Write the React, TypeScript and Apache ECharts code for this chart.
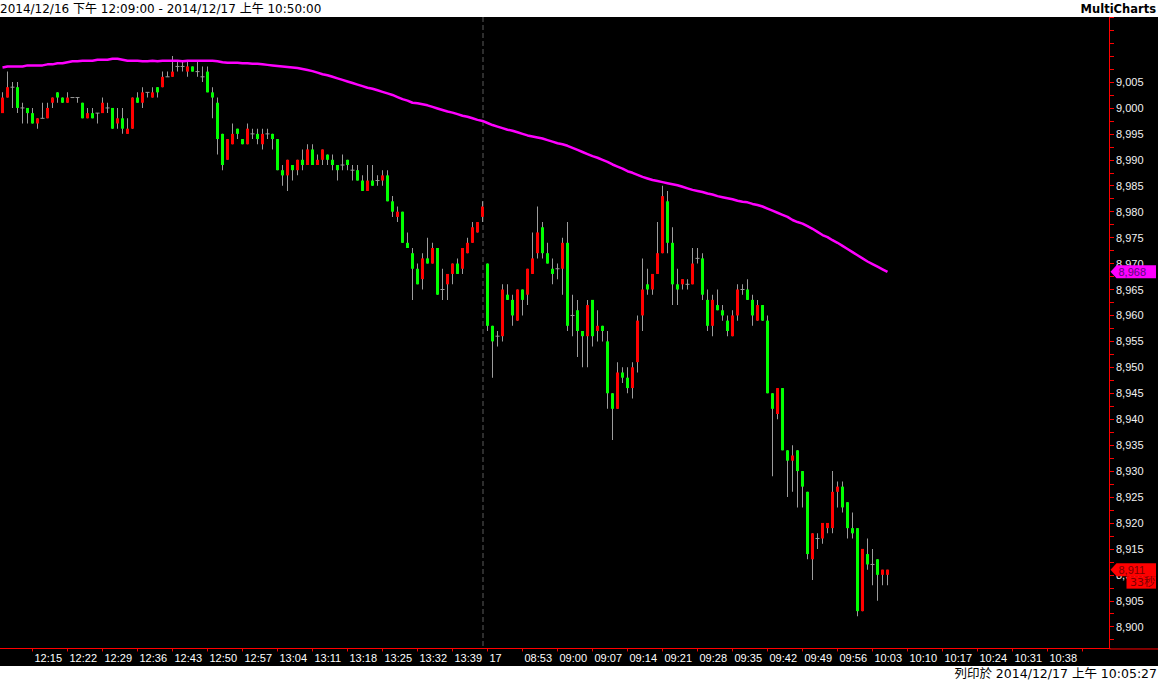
import { useEffect, useRef } from "react";
import * as echarts from "echarts";

// ---------- data ----------
const sessions: [string, string][] = [
  ["12:09", "13:45"],
  ["08:46", "10:50"],
];
const toMin = (s: string) => Number(s.slice(0, 2)) * 60 + Number(s.slice(3));
const fmtMin = (m: number) =>
  String(Math.floor(m / 60)).padStart(2, "0") + ":" + String(m % 60).padStart(2, "0");
const times: string[] = sessions.flatMap(([a, b]) => {
  const r: string[] = [];
  for (let m = toMin(a); m <= toMin(b); m++) r.push(fmtMin(m));
  return r;
});
const dateChangeIndex = toMin(sessions[0][1]) - toMin(sessions[0][0]) + 1; // first bar of 12/17
const dateChangeLabel = "17";
const sessionEndTime = "13:45";
const labelStart = 6;
const labelStep = 7;
const lastLabelIndex = 209;

// [open, high, low, close]
const ohlc: [number, number, number, number][] = [
  [8999, 9003, 8999, 9002], [9002, 9007, 9002, 9004], [9004, 9005, 9000, 9004], [9004, 9005, 8999, 9000],
  [9000, 9001, 8997, 9000], [9000, 9000, 8997, 8999], [8999, 9000, 8997, 8997], [8997, 8998, 8996, 8998],
  [8998, 9001, 8998, 8998], [8998, 9001, 8998, 9000], [9001, 9002, 9000, 9002], [9003, 9003, 9001, 9002],
  [9002, 9002, 9001, 9001], [9001, 9003, 9001, 9002], [9002, 9002, 9002, 9002], [9002, 9002, 9001, 9002],
  [9001, 9001, 8998, 8998], [8998, 9000, 8998, 8999], [8999, 9000, 8998, 8998], [8999, 8999, 8997, 8999],
  [8999, 9002, 8999, 9001], [9000, 9001, 8999, 9000], [9000, 9000, 8996, 8996], [8997, 9000, 8996, 8998],
  [8998, 9000, 8995, 8996], [8995, 8998, 8995, 8996], [8996, 9002, 8996, 9002], [9002, 9003, 9001, 9001],
  [9001, 9004, 9000, 9003], [9003, 9003, 9002, 9003], [9002, 9004, 9002, 9003], [9004, 9004, 9002, 9003],
  [9004, 9007, 9004, 9006], [9006, 9007, 9006, 9006], [9006, 9010, 9006, 9007], [9008, 9009, 9007, 9008],
  [9008, 9009, 9007, 9008], [9007, 9009, 9006, 9008], [9008, 9008, 9007, 9007], [9007, 9009, 9006, 9007],
  [9006, 9008, 9005, 9006], [9007, 9008, 9003, 9003], [9003, 9004, 8998, 9002], [9001, 9002, 8991, 8994],
  [8995, 8995, 8988, 8989], [8990, 8994, 8990, 8994], [8993, 8997, 8993, 8995], [8996, 8996, 8994, 8995],
  [8994, 8994, 8993, 8993], [8993, 8997, 8993, 8996], [8995, 8996, 8994, 8995], [8995, 8996, 8993, 8994],
  [8993, 8996, 8992, 8995], [8995, 8996, 8994, 8995], [8995, 8995, 8992, 8994], [8994, 8994, 8988, 8988],
  [8988, 8989, 8985, 8987], [8987, 8990, 8984, 8990], [8989, 8989, 8986, 8988], [8988, 8990, 8987, 8990],
  [8990, 8992, 8988, 8989], [8989, 8993, 8989, 8992], [8992, 8993, 8989, 8989], [8989, 8991, 8989, 8990],
  [8990, 8992, 8989, 8992], [8991, 8991, 8989, 8990], [8990, 8991, 8988, 8989], [8989, 8989, 8986, 8988],
  [8989, 8991, 8988, 8989], [8990, 8990, 8988, 8989], [8988, 8989, 8986, 8988], [8988, 8989, 8986, 8986],
  [8986, 8987, 8984, 8984], [8984, 8989, 8984, 8986], [8986, 8989, 8985, 8985], [8986, 8987, 8985, 8986],
  [8986, 8988, 8985, 8987], [8987, 8988, 8982, 8982], [8982, 8983, 8979, 8980], [8979, 8981, 8978, 8980],
  [8980, 8980, 8974, 8974], [8974, 8976, 8973, 8973], [8972, 8973, 8963, 8969], [8969, 8970, 8966, 8966],
  [8967, 8972, 8965, 8971], [8971, 8975, 8970, 8970], [8970, 8974, 8970, 8973], [8973, 8973, 8964, 8964],
  [8965, 8969, 8963, 8965], [8966, 8968, 8963, 8968], [8968, 8970, 8966, 8970], [8970, 8971, 8968, 8968],
  [8969, 8973, 8968, 8973], [8972, 8975, 8972, 8974], [8974, 8978, 8974, 8977], [8976, 8978, 8976, 8978],
  [8979, 8982, 8978, 8981],
  [8970, 8970, 8957, 8958], [8958, 8958, 8948, 8955], [8956, 8957, 8954, 8956], [8956, 8966, 8955, 8965],
  [8964, 8966, 8963, 8963], [8963, 8964, 8958, 8960], [8959, 8965, 8959, 8965], [8965, 8965, 8960, 8963],
  [8964, 8969, 8962, 8969], [8968, 8976, 8968, 8971], [8972, 8981, 8971, 8976], [8977, 8978, 8971, 8972],
  [8972, 8974, 8970, 8970], [8969, 8971, 8966, 8968], [8969, 8970, 8967, 8969], [8969, 8975, 8964, 8974],
  [8974, 8978, 8957, 8958], [8960, 8964, 8956, 8960], [8961, 8963, 8952, 8957], [8957, 8957, 8950, 8956],
  [8956, 8963, 8950, 8962], [8963, 8963, 8954, 8956], [8957, 8961, 8955, 8958], [8958, 8958, 8955, 8957],
  [8955, 8957, 8942, 8945], [8945, 8945, 8936, 8942], [8942, 8951, 8942, 8949], [8949, 8950, 8947, 8948],
  [8948, 8950, 8945, 8946], [8946, 8951, 8944, 8950], [8951, 8960, 8949, 8959], [8960, 8971, 8957, 8965],
  [8966, 8969, 8964, 8965], [8965, 8968, 8964, 8968], [8968, 8978, 8968, 8972], [8972, 8985, 8972, 8983],
  [8982, 8984, 8972, 8974], [8974, 8977, 8962, 8966], [8966, 8969, 8962, 8965], [8966, 8967, 8965, 8967],
  [8966, 8967, 8965, 8966], [8966, 8973, 8966, 8970], [8971, 8973, 8970, 8971], [8971, 8972, 8963, 8964],
  [8963, 8965, 8957, 8958], [8958, 8964, 8956, 8963], [8962, 8965, 8961, 8961], [8961, 8962, 8959, 8960],
  [8959, 8960, 8956, 8957], [8956, 8961, 8956, 8960], [8960, 8966, 8959, 8965], [8965, 8966, 8964, 8965],
  [8965, 8967, 8963, 8963], [8963, 8964, 8958, 8960], [8959, 8963, 8959, 8962], [8962, 8962, 8959, 8959],
  [8959, 8960, 8945, 8945], [8945, 8945, 8929, 8942], [8941, 8946, 8940, 8946], [8946, 8946, 8934, 8934],
  [8934, 8934, 8925, 8932], [8932, 8935, 8926, 8933], [8934, 8934, 8923, 8930], [8930, 8930, 8923, 8927],
  [8926, 8926, 8913, 8914], [8913, 8918, 8909, 8918], [8917, 8918, 8915, 8917], [8917, 8920, 8916, 8920],
  [8919, 8920, 8918, 8920], [8919, 8930, 8918, 8926], [8926, 8928, 8923, 8927], [8927, 8928, 8922, 8923],
  [8924, 8924, 8917, 8919], [8919, 8922, 8917, 8918], [8919, 8919, 8902, 8903], [8903, 8915, 8903, 8915],
  [8914, 8917, 8911, 8912], [8912, 8915, 8908, 8912], [8913, 8913, 8905, 8910], [8910, 8911, 8908, 8911],
  [8910, 8911, 8908, 8911],
];

const movingAvg: number[] = [
  9007.8, 9008.0, 9008.0, 9008.0, 9008.0, 9008.2, 9008.2, 9008.2, 9008.2, 9008.4,
  9008.4, 9008.6, 9008.6, 9008.8, 9009.0, 9009.0, 9009.1, 9009.1, 9009.1, 9009.3,
  9009.3, 9009.3, 9009.5, 9009.5, 9009.3, 9009.1, 9009.1, 9009.1, 9009.0, 9009.0,
  9009.1, 9009.0, 9009.1, 9009.1, 9009.1, 9009.1, 9009.0, 9009.1, 9009.1, 9009.1,
  9009.1, 9009.1, 9009.1, 9009.0, 9008.8, 9008.7, 9008.7, 9008.7, 9008.6, 9008.6,
  9008.5, 9008.5, 9008.4, 9008.3, 9008.2, 9008.1, 9008.0, 9007.9, 9007.8, 9007.7,
  9007.5, 9007.3, 9007.1, 9006.8, 9006.5, 9006.3, 9006.0, 9005.7, 9005.4, 9005.1,
  9004.8, 9004.5, 9004.2, 9003.9, 9003.7, 9003.4, 9003.1, 9002.8, 9002.5, 9002.1,
  9001.7, 9001.4, 9001.0, 9000.9, 9000.7, 9000.5, 9000.2, 8999.9, 8999.6, 8999.3,
  8999.1, 8998.8, 8998.5, 8998.3, 8998.0, 8997.7, 8997.5, 8997.1, 8996.7, 8996.4,
  8996.1, 8995.8, 8995.6, 8995.3, 8995.0, 8994.7, 8994.5, 8994.3, 8994.1, 8993.8,
  8993.5, 8993.2, 8993.0, 8992.7, 8992.3, 8991.9, 8991.5, 8991.1, 8990.7, 8990.4,
  8990.0, 8989.6, 8989.1, 8988.7, 8988.3, 8987.8, 8987.5, 8987.1, 8986.7, 8986.4,
  8986.1, 8985.9, 8985.7, 8985.5, 8985.3, 8985.1, 8984.8, 8984.5, 8984.2, 8984.0,
  8983.8, 8983.5, 8983.3, 8983.0, 8982.8, 8982.6, 8982.4, 8982.1, 8981.9, 8981.8,
  8981.5, 8981.3, 8981.0, 8980.6, 8980.2, 8979.8, 8979.4, 8979.0, 8978.4, 8978.0,
  8977.7, 8977.2, 8976.7, 8976.1, 8975.5, 8975.1, 8974.5, 8974.0, 8973.4, 8972.8,
  8972.2, 8971.6, 8971.0, 8970.4, 8969.9, 8969.4, 8968.9, 8968.4,
];

const yMin = 8897.5;
const yMax = 9017.5;
const yStep = 2.5;
const yLabelStep = 5;
const yLabelMax = 9005;

const headerText = "2014/12/16 下午 12:09:00 - 2014/12/17 上午 10:50:00";
const brandText = "MultiCharts";
const footerText = "列印於 2014/12/17 上午 10:05:27";
const timerText = "33秒";

// ---------- styles ----------
const UP = "#ff0000";
const DOWN = "#00ff00";
const WICK = "#9c9c9c";
const AXIS = "#ff0000";
const MA_COLOR = "#ff00ff";
const LATIN = "'Liberation Sans', Arial, sans-serif";
const UI = "'DejaVu Sans', 'Noto Sans CJK TC', sans-serif";

const W = 1158;
const H = 681;
const GRID_RIGHT = 48;
const GRID_TOP = 17.15;
const GRID_BOTTOM = 41.33;
const X_OFFSET = 8.8;

const fmtPrice = (v: number) => Math.round(v).toLocaleString("en-US");

export default function App() {
  const ref = useRef<HTMLDivElement>(null);

  useEffect(() => {
    if (!ref.current) return;
    const chart = echarts.init(ref.current, undefined, { renderer: "svg" });

    const candleData = ohlc.map((d, i) => [i, d[0], d[1], d[2], d[3]]);
    const isTick = (i: number) => i >= labelStart && (i - labelStart) % labelStep === 0;

    const option: any = {
      animation: false,
      backgroundColor: "#000000",
      grid: { left: 0, right: GRID_RIGHT, top: GRID_TOP, bottom: GRID_BOTTOM },
      xAxis: {
        type: "category",
        data: times,
        boundaryGap: true,
        offset: X_OFFSET,
        axisLine: { show: true, lineStyle: { color: AXIS, width: 1 } },
        axisTick: {
          show: true,
          alignWithLabel: true,
          interval: (i: number) => isTick(i),
          length: 3,
          lineStyle: { color: AXIS },
        },
        axisLabel: {
          show: true,
          interval: (i: number) => isTick(i) && i <= lastLabelIndex,
          align: "left",
          margin: 4,
          padding: [0, 0, 0, 2],
          color: "#ffffff",
          fontSize: 11,
          fontFamily: LATIN,
          formatter: (v: string, i: number) => (i === dateChangeIndex ? dateChangeLabel : v),
        },
        splitLine: { show: false },
      },
      yAxis: {
        type: "value",
        position: "right",
        min: yMin,
        max: yMax,
        interval: yStep,
        axisLine: { show: false },
        axisTick: { show: true, length: 4, lineStyle: { color: AXIS } },
        splitLine: { show: false },
        axisLabel: {
          margin: 6,
          color: "#f2f2f2",
          fontSize: 11,
          fontFamily: LATIN,
          showMinLabel: true,
          showMaxLabel: true,
          formatter: (v: number) => {
            const isMajor = Math.abs(v / yLabelStep - Math.round(v / yLabelStep)) < 1e-6;
            return isMajor && v <= yLabelMax ? fmtPrice(v) : "";
          },
        },
      },
      series: [
        {
          type: "custom",
          name: "TXF",
          data: candleData,
          encode: { x: 0, y: [1, 2, 3, 4] },
          renderItem: (_params: any, api: any) => {
            const i = api.value(0);
            const o = api.value(1);
            const h = api.value(2);
            const l = api.value(3);
            const c = api.value(4);
            const pH = api.coord([i, h]);
            const pL = api.coord([i, l]);
            const pO = api.coord([i, o]);
            const pC = api.coord([i, c]);
            const cx = pH[0];
            const children: any[] = [];
            if (h > l) {
              children.push({
                type: "rect",
                shape: { x: cx - 0.5, y: pH[1], width: 1, height: pL[1] - pH[1] },
                style: { fill: WICK },
              });
            }
            if (o === c) {
              children.push({
                type: "rect",
                shape: { x: cx - 2, y: pO[1] - 0.5, width: 4, height: 1 },
                style: { fill: WICK },
              });
            } else {
              const top = Math.min(pO[1], pC[1]);
              children.push({
                type: "rect",
                shape: { x: cx - 1.5, y: top, width: 3, height: Math.abs(pO[1] - pC[1]) },
                style: { fill: c > o ? UP : DOWN },
              });
            }
            return { type: "group", children };
          },
          z: 3,
        },
        {
          type: "line",
          name: "MA",
          data: movingAvg,
          showSymbol: false,
          symbol: "none",
          lineStyle: { color: MA_COLOR, width: 2.5 },
          z: 4,
        },
      ],
    };

    chart.setOption(option);

    const lastMA = movingAvg[movingAvg.length - 1];
    const lastClose = ohlc[ohlc.length - 1][3];
    const yMA = chart.convertToPixel({ yAxisIndex: 0 }, lastMA) as number;
    const yClose = chart.convertToPixel({ yAxisIndex: 0 }, lastClose) as number;
    const xSession = chart.convertToPixel({ xAxisIndex: 0 }, sessionEndTime) as number;
    const axisX = W - GRID_RIGHT - 0.5;
    const xAxisY = H - GRID_BOTTOM + X_OFFSET + 0.5;

    const tag = (yc: number, fill: string, text: string, textColor: string) => [
      {
        type: "polygon",
        shape: {
          points: [
            [axisX + 1, yc],
            [axisX + 7, yc - 6.5],
            [W - 2, yc - 6.5],
            [W - 2, yc + 6.5],
            [axisX + 7, yc + 6.5],
          ],
        },
        style: { fill },
        z: 50,
      },
      {
        type: "text",
        x: axisX + 9,
        y: yc,
        style: {
          text,
          fill: textColor,
          font: `11px ${LATIN}`,
          verticalAlign: "middle",
          align: "left",
        },
        z: 51,
      },
    ];

    chart.setOption({
      graphic: [
        {
          type: "line",
          shape: { x1: Math.round(xSession) - 0.5 + 0.5, y1: 17, x2: Math.round(xSession) - 0.5 + 0.5, y2: xAxisY - 0.5 },
          style: { stroke: "#5a5a5a", lineWidth: 1, lineDash: [5, 3] },
          z: 1,
        },
        { type: "line", shape: { x1: axisX, y1: 17, x2: axisX, y2: xAxisY }, style: { stroke: AXIS, lineWidth: 1 }, z: 20 },
        { type: "line", shape: { x1: axisX, y1: xAxisY, x2: W, y2: xAxisY }, style: { stroke: AXIS, lineWidth: 1 }, z: 20 },
        ...tag(yMA, MA_COLOR, fmtPrice(lastMA), "#5a0a7a"),
        ...tag(yClose, "#ff0000", fmtPrice(lastClose), "#7a0000"),
        { type: "rect", shape: { x: axisX + 17, y: yClose + 6.5, width: W - 2 - (axisX + 17), height: 12.5 }, style: { fill: "#ff0000" }, z: 50 },
        {
          type: "text",
          x: W - 3,
          y: yClose + 13,
          style: { text: timerText, fill: "#7a0000", font: `11px ${UI}`, align: "right", verticalAlign: "middle" },
          z: 51,
        },
        { type: "rect", shape: { x: 0, y: 0, width: W, height: 17 }, style: { fill: "#ffffff" }, z: 100 },
        { type: "rect", shape: { x: 0, y: 666, width: W, height: H - 666 }, style: { fill: "#ffffff" }, z: 100 },
        {
          type: "text",
          x: 0,
          y: 8.5,
          style: { text: headerText, fill: "#000000", font: `12px ${UI}`, verticalAlign: "middle", align: "left" },
          z: 101,
        },
        {
          type: "text",
          x: W - 2,
          y: 8.5,
          style: { text: brandText, fill: "#000000", font: `bold 11.5px ${UI}`, verticalAlign: "middle", align: "right" },
          z: 101,
        },
        {
          type: "text",
          x: W - 1,
          y: 673.5,
          style: { text: footerText, fill: "#000000", font: `12.5px ${UI}`, verticalAlign: "middle", align: "right" },
          z: 101,
        },
      ],
    });

    return () => chart.dispose();
  }, []);

  return (
    <div
      ref={ref}
      style={{ position: "fixed", left: 0, top: 0, width: W, height: H, background: "#000" }}
    />
  );
}
